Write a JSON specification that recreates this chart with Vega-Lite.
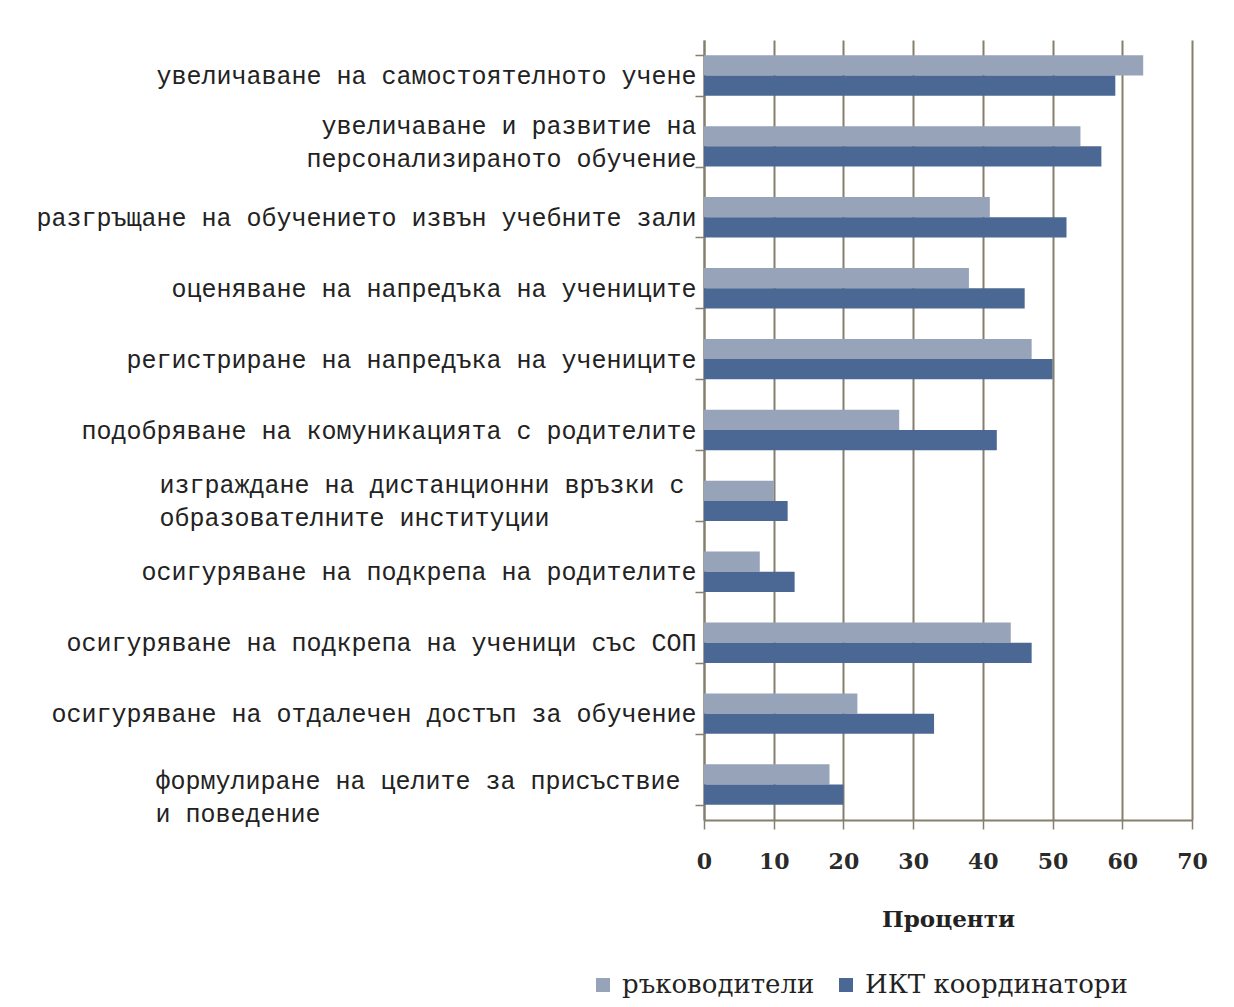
{
  "$schema": "https://vega.github.io/schema/vega-lite/v6.json",
  "width": 488,
  "height": 780,
  "autosize": {"type": "none"},
  "padding": {"left": 704, "top": 40, "right": 42, "bottom": 187},
  "background": "white",
  "config": {"view": {"stroke": null}},
  "data": {
    "values": [
      {"category": "увеличаване на самостоятелното учене", "group": "ръководители", "value": 63},
      {"category": "увеличаване на самостоятелното учене", "group": "ИКТ координатори", "value": 59},
      {"category": "увеличаване и развитие на|персонализираното обучение", "group": "ръководители", "value": 54},
      {"category": "увеличаване и развитие на|персонализираното обучение", "group": "ИКТ координатори", "value": 57},
      {"category": "разгръщане на обучението извън учебните зали", "group": "ръководители", "value": 41},
      {"category": "разгръщане на обучението извън учебните зали", "group": "ИКТ координатори", "value": 52},
      {"category": "оценяване на напредъка на учениците", "group": "ръководители", "value": 38},
      {"category": "оценяване на напредъка на учениците", "group": "ИКТ координатори", "value": 46},
      {"category": "регистриране на напредъка на учениците", "group": "ръководители", "value": 47},
      {"category": "регистриране на напредъка на учениците", "group": "ИКТ координатори", "value": 50},
      {"category": "подобряване на комуникацията с родителите", "group": "ръководители", "value": 28},
      {"category": "подобряване на комуникацията с родителите", "group": "ИКТ координатори", "value": 42},
      {"category": "изграждане на дистанционни връзки с|образователните институции", "group": "ръководители", "value": 10},
      {"category": "изграждане на дистанционни връзки с|образователните институции", "group": "ИКТ координатори", "value": 12},
      {"category": "осигуряване на подкрепа на родителите", "group": "ръководители", "value": 8},
      {"category": "осигуряване на подкрепа на родителите", "group": "ИКТ координатори", "value": 13},
      {"category": "осигуряване на подкрепа на ученици със СОП", "group": "ръководители", "value": 44},
      {"category": "осигуряване на подкрепа на ученици със СОП", "group": "ИКТ координатори", "value": 47},
      {"category": "осигуряване на отдалечен достъп за обучение", "group": "ръководители", "value": 22},
      {"category": "осигуряване на отдалечен достъп за обучение", "group": "ИКТ координатори", "value": 33},
      {"category": "формулиране на целите за присъствие|и поведение", "group": "ръководители", "value": 18},
      {"category": "формулиране на целите за присъствие|и поведение", "group": "ИКТ координатори", "value": 20}
    ]
  },
  "mark": {"type": "bar"},
  "encoding": {
    "y": {
      "field": "category",
      "type": "nominal",
      "sort": null,
      "scale": {"paddingInner": 0.43, "paddingOuter": 0.215},
      "axis": {
        "title": null,
        "labelExpr": "split(datum.label, '|')",
        "labelFont": "Liberation Mono",
        "labelFontSize": 25,
        "labelColor": "#222222",
        "labelLimit": 0,
        "labelLineHeight": 33,
        "labelAlign": {"condition": [
          {"test": "datum.value === 'изграждане на дистанционни връзки с|образователните институции'", "value": "left"},
          {"test": "datum.value === 'формулиране на целите за присъствие|и поведение'", "value": "left"}
        ], "value": "right"},
        "labelPadding": {"condition": [
          {"test": "datum.value === 'изграждане на дистанционни връзки с|образователните институции'", "value": 536},
          {"test": "datum.value === 'формулиране на целите за присъствие|и поведение'", "value": 540}
        ], "value": -1},
        "labelOffset": {"condition": [
          {"test": "datum.value === 'формулиране на целите за присъствие|и поведение'", "value": -4},
          {"test": "datum.value === 'изграждане на дистанционни връзки с|образователните институции'", "value": -16},
          {"test": "datum.value === 'увеличаване и развитие на|персонализираното обучение'", "value": -21}
        ], "value": 0},
        "tickBand": "extent",
        "tickSize": 9,
        "tickWidth": 1.5,
        "tickColor": "#857f6e",
        "domainColor": "#857f6e",
        "domainWidth": 2,
        "grid": false
      }
    },
    "yOffset": {"field": "group", "type": "nominal", "sort": "descending"},
    "x": {
      "field": "value",
      "type": "quantitative",
      "scale": {"domain": [0, 70], "nice": false},
      "axis": {
        "title": "Проценти",
        "titleFont": "DejaVu Serif",
        "titleFontSize": 23,
        "titleFontWeight": "bold",
        "titleColor": "#222222",
        "titlePadding": 36,
        "values": [0, 10, 20, 30, 40, 50, 60, 70],
        "labelFlush": false,
        "labelFont": "DejaVu Serif",
        "labelFontSize": 22,
        "labelFontWeight": "bold",
        "labelColor": "#2a2a2a",
        "labelPadding": 22,
        "tickSize": 9,
        "tickWidth": 1.5,
        "tickColor": "#857f6e",
        "domainColor": "#857f6e",
        "domainWidth": 2,
        "grid": true,
        "gridColor": "#857f6e",
        "gridWidth": 2
      }
    },
    "color": {
      "field": "group",
      "type": "nominal",
      "scale": {"domain": ["ръководители", "ИКТ координатори"], "range": ["#97a3b8", "#4b6894"]},
      "legend": {
        "title": null,
        "orient": "none",
        "legendX": -114,
        "legendY": 932,
        "direction": "horizontal",
        "symbolType": "square",
        "symbolSize": 196,
        "symbolStrokeWidth": 0,
        "labelFont": "DejaVu Serif",
        "labelFontSize": 26,
        "labelColor": "#222222",
        "labelLimit": 0,
        "labelOffset": 6,
        "columnPadding": 18
      }
    }
  }
}
